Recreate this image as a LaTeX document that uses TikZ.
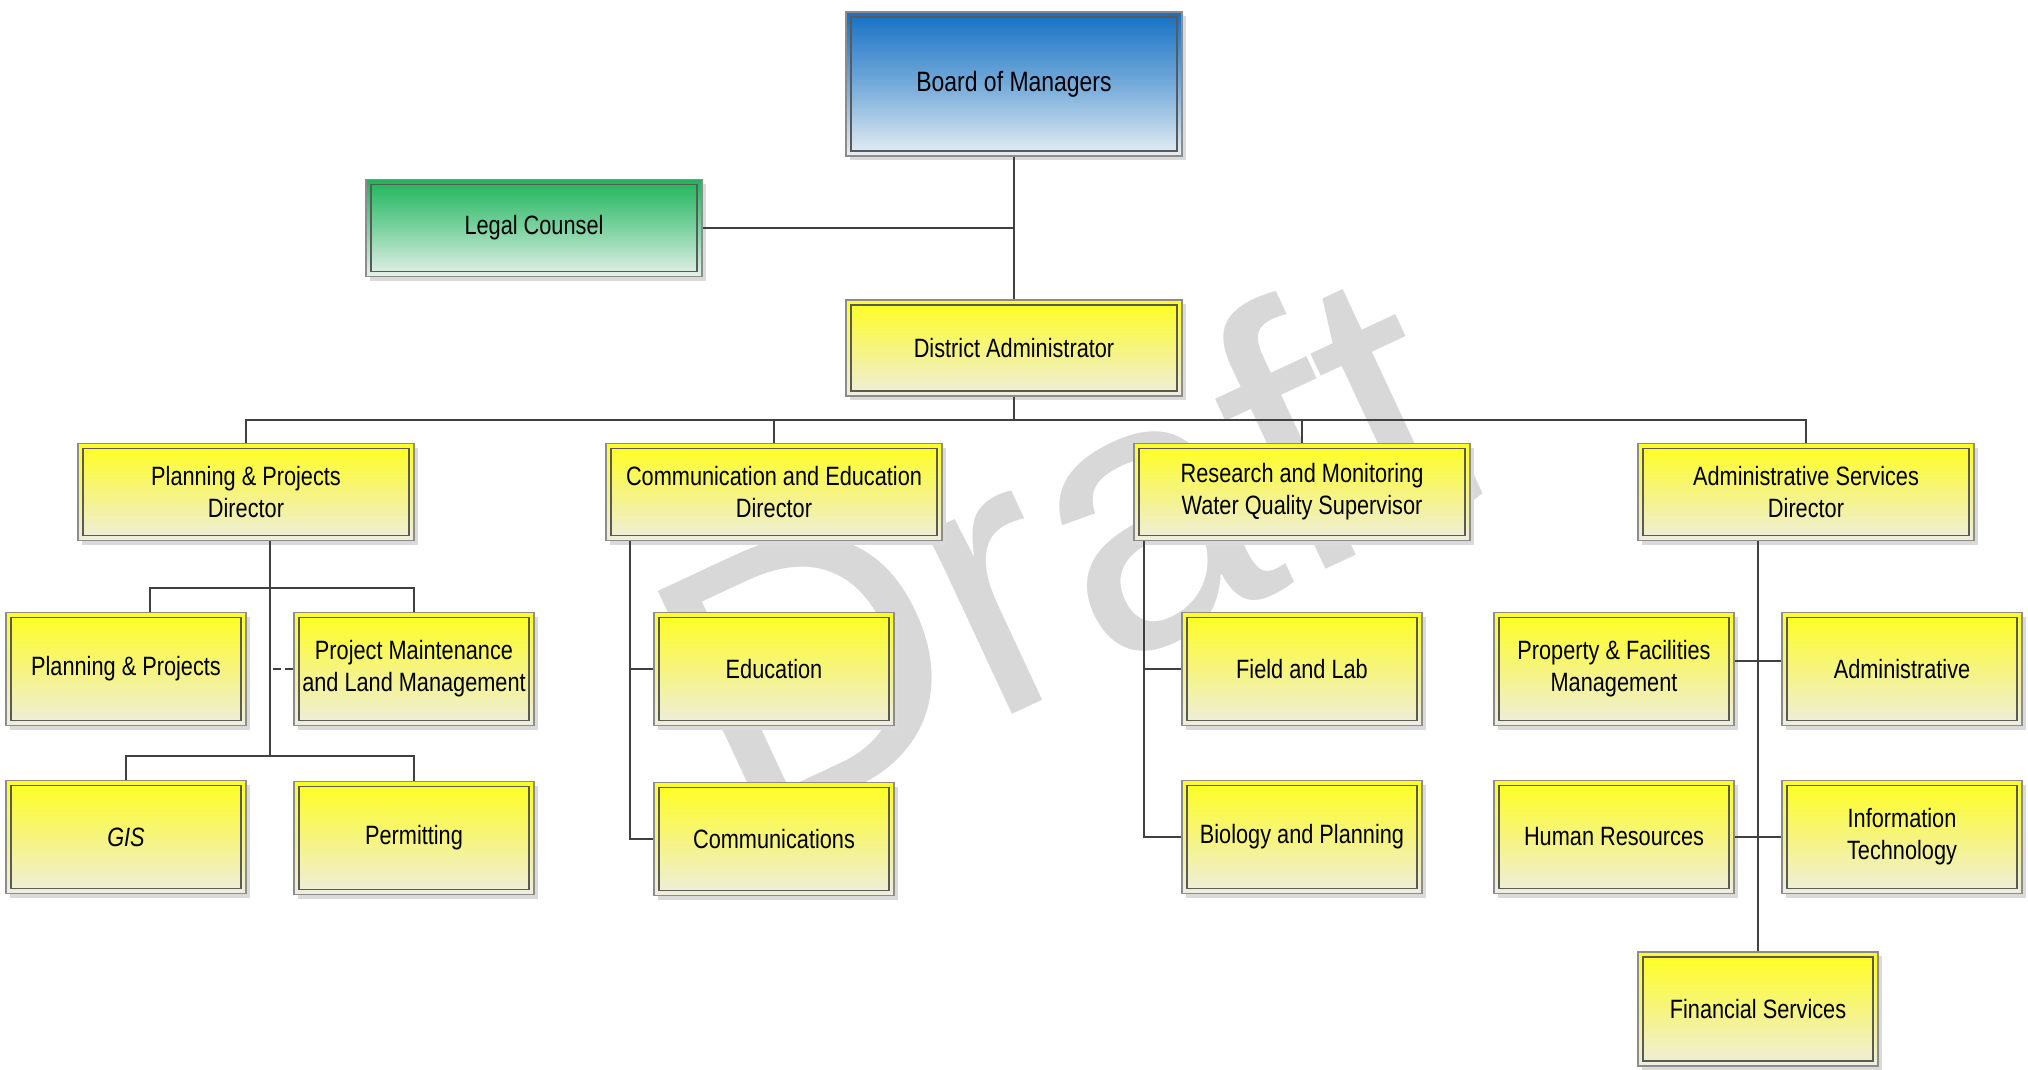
\documentclass[tikz,border=0pt]{standalone}
\usepackage{fontspec}
\setmainfont{Liberation Sans}[FakeStretch=0.82]
\newfontfamily\wmfont{Liberation Sans}
\usetikzlibrary{shadows}
\definecolor{conn}{HTML}{404040}
\definecolor{boxout}{HTML}{8C8C8C}
\definecolor{boxin}{HTML}{5A5A5A}
\definecolor{shadowc}{HTML}{DADADA}
\definecolor{wm}{HTML}{D8D8D8}
\definecolor{ytop}{HTML}{FFFF1E}
\definecolor{ymid}{HTML}{F6F47E}
\definecolor{ybot}{HTML}{EEEEE0}
\definecolor{btop}{HTML}{1570C4}
\definecolor{bmid}{HTML}{74AADA}
\definecolor{bbot}{HTML}{E8EEF3}
\definecolor{gtop}{HTML}{1DB45A}
\definecolor{gmid}{HTML}{7CD2A0}
\definecolor{gbot}{HTML}{E6F1EA}
\begin{document}
\begin{tikzpicture}[x=1pt,y=-1pt,
  base/.style={rectangle, draw=boxout, line width=1.4pt, align=center, inner sep=0pt,
    font=\fontsize{26.5}{32}\selectfont, text=black,
    drop shadow={shadow xshift=4pt, shadow yshift=-4pt, fill=shadowc, opacity=1},
    path picture={\draw[draw=boxin, line width=1.4pt]
      ([shift={(5pt,-5pt)}]path picture bounding box.north west) rectangle
      ([shift={(-5pt,5pt)}]path picture bounding box.south east);}},
  ybox/.style={base, top color=ytop, bottom color=ybot, middle color=ymid},
  bluebox/.style={base, top color=btop, bottom color=bbot, middle color=bmid},
  greenbox/.style={base, top color=gtop, bottom color=gbot, middle color=gmid},
  big/.style={minimum width=336pt, minimum height=96pt},
  small/.style={minimum width=240pt, minimum height=113pt},
  link/.style={draw=conn, line width=2.8pt},
  dlink/.style={draw=conn, line width=2.8pt, dash pattern=on 8pt off 4pt}]
\useasboundingbox (0,0) rectangle (2028,1070);
\fill[white] (0,0) rectangle (2028,1070);
% watermark
\node[rotate=25, anchor=base west, text=wm, inner sep=0pt,
  font=\wmfont\fontsize{380}{380}\selectfont] (draft) at (740,842) {Draft};
% coordinates
\coordinate (lj) at (1014,228);
\coordinate (bus) at (1014,420);
\coordinate (pv1) at (270,588);
\coordinate (pv2) at (270,756);
% nodes
\node[bluebox, minimum width=336pt, minimum height=144pt, font=\fontsize{28}{32}\selectfont] (board) at (1014,84) {Board of Managers};
\node[greenbox, big, minimum height=97pt] (legal) at (534,228) {Legal Counsel};
\node[ybox, big] (district) at (1014,348) {District Administrator};
\node[ybox, big, minimum height=97pt] (ppdir) at (246,492) {Planning \& Projects\\Director};
\node[ybox, big, minimum height=97pt] (cedir) at (774,492) {Communication and Education\\Director};
\node[ybox, big, minimum height=97pt] (rmdir) at (1302,492) {Research and Monitoring\\Water Quality Supervisor};
\node[ybox, big, minimum height=97pt] (asdir) at (1806,492) {Administrative Services\\Director};
\node[ybox, small] (pp) at (126,669) {Planning \& Projects};
\node[ybox, small] (pmlm) at (414,669) {Project Maintenance\\and Land Management};
\node[ybox, small] (gis) at (126,837) {\itshape GIS};
\node[ybox, small] (permit) at (414,838) {Permitting};
\node[ybox, small] (edu) at (774,669) {Education};
\node[ybox, small] (comm) at (774,839) {Communications};
\node[ybox, small] (field) at (1302,669) {Field and Lab};
\node[ybox, small] (bio) at (1302,837) {Biology and Planning};
\node[ybox, small] (prop) at (1614,669) {Property \& Facilities\\Management};
\node[ybox, small] (admin) at (1902,669) {Administrative};
\node[ybox, small] (hr) at (1614,837) {Human Resources};
\node[ybox, small] (it) at (1902,837) {Information\\Technology};
\node[ybox, small, minimum height=114pt] (fin) at (1758,1009) {Financial Services};
% connectors
\draw[link] (board.south) -- (district.north);
\draw[link] (legal.east) -- (lj);
\draw[link] (district.south) -- (bus) -| (ppdir.north);
\draw[link] (bus) -| (cedir.north);
\draw[link] (bus) -| (rmdir.north);
\draw[link] (bus) -| (asdir.north);
% planning
\draw[link] ([xshift=24pt]ppdir.south) -- (pv2);
\draw[link] ([xshift=24pt]pp.north) |- (pv1) -| (pmlm.north);
\draw[link] (gis.north) |- (pv2) -| (permit.north);
\draw[dlink] (pmlm.west) -- ([xshift=-21pt]pmlm.west);
% communication
\draw[link] ([xshift=-144pt]cedir.south) |- (comm.west);
\draw[link] ([xshift=-144pt]cedir.south) |- (edu.west);
% research
\draw[link] ([xshift=-158pt]rmdir.south) |- (bio.west);
\draw[link] ([xshift=-158pt]rmdir.south) |- (field.west);
% administrative
\draw[link] ([xshift=-48pt]asdir.south) -- (fin.north);
\draw[link] ([yshift=8pt]prop.east) -- ([yshift=8pt]admin.west);
\draw[link] (hr.east) -- (it.west);
\end{tikzpicture}
\end{document}
